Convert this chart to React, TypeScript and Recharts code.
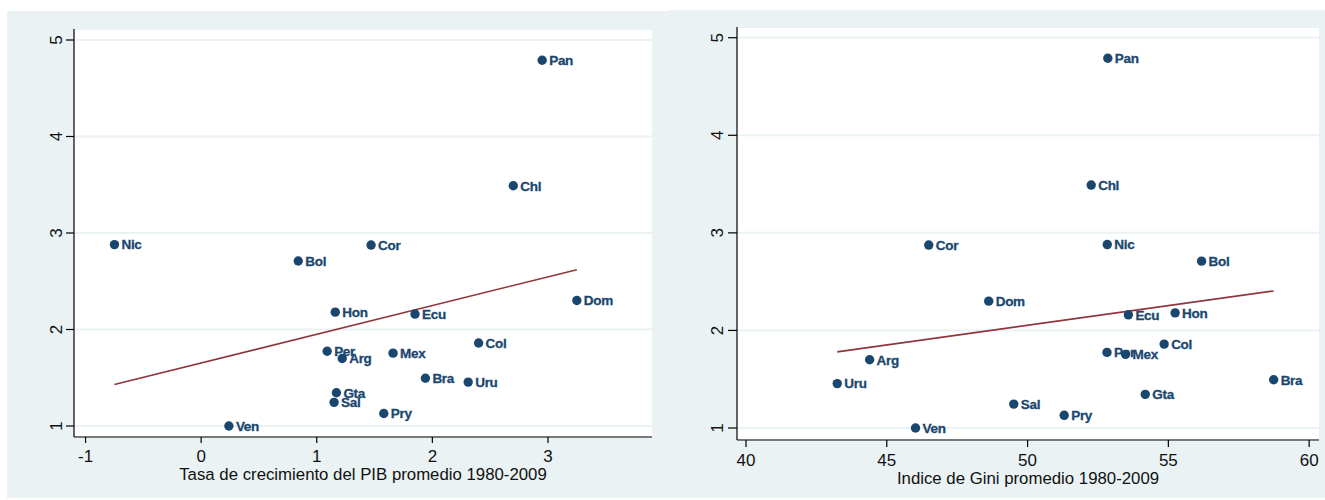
import { ScatterChart, Scatter, XAxis, YAxis, CartesianGrid, Label } from 'recharts'

const paises = ['Pan', 'Chl', 'Nic', 'Cor', 'Bol', 'Dom', 'Hon', 'Ecu', 'Col', 'Per', 'Arg', 'Mex', 'Bra', 'Uru', 'Gta', 'Sal', 'Pry', 'Ven']
const valorY = [4.79, 3.49, 2.88, 2.875, 2.71, 2.3, 2.18, 2.16, 1.86, 1.775, 1.7, 1.755, 1.495, 1.455, 1.345, 1.245, 1.13, 1.0]
const crecimientoPIB = [2.95, 2.7, -0.75, 1.47, 0.84, 3.25, 1.16, 1.85, 2.4, 1.09, 1.22, 1.66, 1.94, 2.31, 1.17, 1.15, 1.58, 0.24]
const giniPromedio = [52.85, 52.26, 52.83, 46.49, 56.18, 48.62, 55.24, 53.58, 54.85, 52.82, 44.39, 53.48, 58.74, 43.24, 54.18, 49.51, 51.3, 46.02]

// rectas de ajuste (extremos)
const ajustePIBx = [-0.75, 3.25]
const ajustePIBy = [1.43, 2.62]
const ajusteGiniX = [43.24, 58.74]
const ajusteGiniY = [1.78, 2.405]

const yTicks = [1, 2, 3, 4, 5]
const pibTicks = [-1, 0, 1, 2, 3]
const giniTicks = [40, 45, 50, 55, 60]

const NAVY = '#1a476f'
const MAROON = '#90353b'
const BG = '#eaf2f3'
const FONT = '"Liberation Sans", Arial, sans-serif'

const datosPIB = paises.map((p, i) => ({ pais: p, x: crecimientoPIB[i], y: valorY[i] }))
const datosGini = paises.map((p, i) => ({ pais: p, x: giniPromedio[i], y: valorY[i] }))
const rectaPIB = ajustePIBx.map((x, i) => ({ x, y: ajustePIBy[i] }))
const rectaGini = ajusteGiniX.map((x, i) => ({ x, y: ajusteGiniY[i] }))

const Punto = (props: any) => {
  const { cx, cy, payload } = props
  return (
    <g>
      <circle cx={cx} cy={cy} r={4.7} fill={NAVY} />
      <text
        x={cx + 7}
        y={cy + 4.8}
        fill={NAVY}
        stroke={NAVY}
        strokeWidth={0.3}
        fontSize={13.5}
        fontWeight="bold"
        letterSpacing={-0.3}
        fontFamily={FONT}
      >
        {payload.pais}
      </text>
    </g>
  )
}

const Nada = () => <g />

const YTick = (props: any) => {
  const { x, y, payload } = props
  return (
    <text x={x} y={y} transform={`rotate(-90, ${x}, ${y})`} textAnchor="middle" fontSize={17} fontFamily={FONT} fill="#111">
      {payload.value}
    </text>
  )
}

const XTick = (props: any) => {
  const { x, y, payload } = props
  return (
    <text x={x} y={y} dy="0.71em" textAnchor="middle" fontSize={17} fontFamily={FONT} fill="#111">
      {payload.value}
    </text>
  )
}

type PanelProps = {
  left: number
  top: number
  width: number
  height: number
  margin: { top: number; right: number; left: number; bottom: number }
  yWidth: number
  xHeight: number
  xDomain: [number, number]
  yDomain: [number, number]
  xTicks: number[]
  ySize: number
  yMargin: number
  xSize: number
  xMargin: number
  datos: any[]
  recta: any[]
  titulo: string
  tituloOffset: number
}

function Panel(p: PanelProps) {
  return (
    <div style={{ position: 'absolute', left: p.left, top: p.top, width: p.width, height: p.height, background: BG }}>
      <ScatterChart width={p.width} height={p.height} margin={p.margin}>
        <CartesianGrid horizontal vertical={false} fill="#ffffff" stroke={BG} strokeWidth={2} />
        <XAxis
          type="number"
          dataKey="x"
          domain={p.xDomain}
          ticks={p.xTicks}
          interval={0}
          height={p.xHeight}
          tick={<XTick />}
          tickSize={p.xSize}
          tickMargin={p.xMargin}
          axisLine={{ stroke: '#000', strokeWidth: 1.2 }}
          tickLine={{ stroke: '#000', strokeWidth: 1.2 }}
        >
          <Label value={p.titulo} position="insideBottom" offset={p.tituloOffset} fontSize={16.8} fontFamily={FONT} fill="#111" />
        </XAxis>
        <YAxis
          type="number"
          dataKey="y"
          domain={p.yDomain}
          ticks={yTicks}
          interval={0}
          width={p.yWidth}
          tick={<YTick />}
          tickSize={p.ySize}
          tickMargin={p.yMargin}
          axisLine={{ stroke: '#000', strokeWidth: 1.2 }}
          tickLine={{ stroke: '#000', strokeWidth: 1.2 }}
        />
        <Scatter data={p.recta} line={{ stroke: MAROON, strokeWidth: 1.6 }} shape={<Nada />} isAnimationActive={false} />
        <Scatter data={p.datos} shape={<Punto />} isAnimationActive={false} />
      </ScatterChart>
    </div>
  )
}

export default function App() {
  return (
    <div style={{ position: 'absolute', left: 0, top: 0, width: 1325, height: 500, background: '#fff' }}>
      <Panel
        left={7}
        top={11}
        width={662}
        height={487}
        margin={{ top: 18, right: 17, left: 0, bottom: 0 }}
        yWidth={67}
        xHeight={61}
        xDomain={[-1.1, 3.9]}
        yDomain={[0.886, 5.114]}
        xTicks={pibTicks}
        ySize={8}
        yMargin={4}
        xSize={6}
        xMargin={7}
        datos={datosPIB}
        recta={rectaPIB}
        titulo="Tasa de crecimiento del PIB promedio 1980-2009"
        tituloOffset={18}
      />
      <Panel
        left={669}
        top={10}
        width={656}
        height={488}
        margin={{ top: 17, right: 6, left: 0, bottom: 0 }}
        yWidth={68}
        xHeight={58}
        xDomain={[39.68, 60.35]}
        yDomain={[0.877, 5.11]}
        xTicks={giniTicks}
        ySize={9}
        yMargin={5}
        xSize={7}
        xMargin={7}
        datos={datosGini}
        recta={rectaGini}
        titulo="Indice de Gini promedio 1980-2009"
        tituloOffset={14}
      />
    </div>
  )
}
